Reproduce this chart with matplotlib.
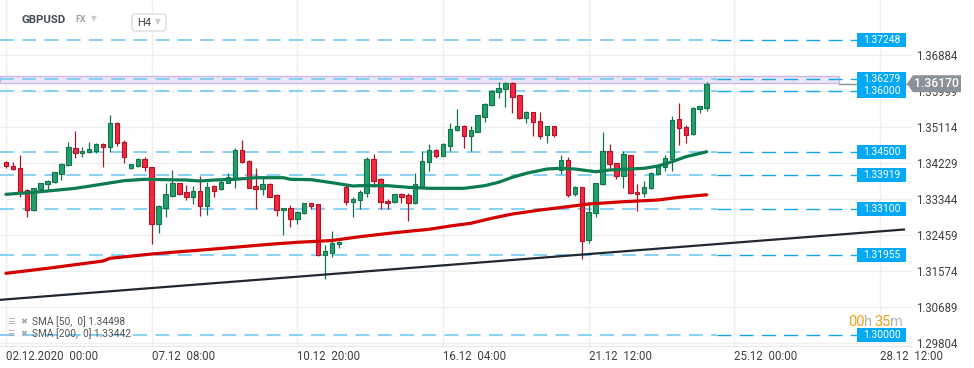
import matplotlib
matplotlib.use('Agg')
import matplotlib.pyplot as plt
import matplotlib.transforms as mtransforms
from matplotlib.patches import Rectangle, Polygon, FancyBboxPatch

plt.rcParams['font.family'] = ['Roboto', 'DejaVu Sans']
plt.rcParams['lines.scale_dashes'] = False

# GBPUSD H4 candles
opens = [1.34239, 1.34156, 1.34092, 1.33558, 1.33067, 1.33575, 1.33698, 1.33747, 1.33944, 1.34166,
         1.34583, 1.34461, 1.34485, 1.34525, 1.34689, 1.34623, 1.35198, 1.34731, 1.34092, 1.34156,
         1.34313, 1.34117, 1.32716, 1.33124, 1.33419, 1.33722, 1.33509, 1.33394, 1.33534, 1.33173,
         1.33657, 1.33575, 1.33738, 1.33845, 1.34542, 1.34271, 1.33657, 1.33575, 1.33706, 1.33436,
         1.33060, 1.33109, 1.32839, 1.32993, 1.33232, 1.33207, 1.31954, 1.32018, 1.32224, 1.33640,
         1.33271, 1.33313, 1.33477, 1.34313, 1.33822, 1.33281, 1.33257, 1.33452, 1.33436, 1.33232,
         1.33640, 1.34239, 1.34542, 1.34402, 1.34647, 1.35033, 1.35131, 1.34886, 1.34991, 1.35360,
         1.35647, 1.35974, 1.36033, 1.36180, 1.35893, 1.35320, 1.35468, 1.35254, 1.34903, 1.35124,
         1.34050, 1.34296, 1.33452, 1.33625, 1.32330, 1.32986, 1.33698, 1.34517, 1.34215, 1.33910,
         1.34411, 1.33502, 1.33477, 1.33600, 1.33944, 1.34131, 1.34313, 1.35296, 1.35099, 1.34927,
         1.35541, 1.35581]
highs = [1.34271, 1.34247, 1.34419, 1.33575, 1.33620, 1.33738, 1.33804, 1.34008, 1.34215, 1.34745,
         1.35008, 1.34623, 1.34730, 1.34721, 1.34706, 1.35402, 1.35230, 1.34787, 1.34200, 1.34338,
         1.34362, 1.34131, 1.33182, 1.33738, 1.34050, 1.33738, 1.33681, 1.33657, 1.33902, 1.33763,
         1.33681, 1.33804, 1.33968, 1.34583, 1.34787, 1.34296, 1.34092, 1.33902, 1.33722, 1.33452,
         1.33124, 1.33182, 1.33035, 1.33247, 1.33247, 1.33215, 1.32215, 1.32552, 1.32306, 1.33681,
         1.33394, 1.33558, 1.34377, 1.34443, 1.33846, 1.33330, 1.33460, 1.33477, 1.33477, 1.33968,
         1.34524, 1.34689, 1.34558, 1.34706, 1.35213, 1.35549, 1.35156, 1.35131, 1.35410, 1.35689,
         1.36016, 1.36219, 1.36219, 1.36219, 1.35900, 1.35500, 1.35483, 1.35468, 1.35139, 1.35139,
         1.34419, 1.34377, 1.33657, 1.33640, 1.33271, 1.33738, 1.34991, 1.34689, 1.34230, 1.34517,
         1.34419, 1.33698, 1.33779, 1.34008, 1.34160, 1.34419, 1.35377, 1.35704, 1.35156, 1.35606,
         1.35623, 1.36219]
lows = [1.34092, 1.34050, 1.33393, 1.32895, 1.33055, 1.33558, 1.33540, 1.33723, 1.33804, 1.34156,
        1.34338, 1.34377, 1.34461, 1.34461, 1.34131, 1.34500, 1.34640, 1.34215, 1.34085, 1.34131,
        1.34033, 1.32232, 1.32510, 1.32895, 1.33394, 1.33435, 1.33313, 1.33215, 1.32910, 1.32945,
        1.33394, 1.33558, 1.33722, 1.33615, 1.34215, 1.33600, 1.33085, 1.33436, 1.33379, 1.32927,
        1.32453, 1.32642, 1.32724, 1.32965, 1.33092, 1.31937, 1.31364, 1.31906, 1.32141, 1.33190,
        1.32903, 1.33085, 1.33394, 1.33625, 1.33092, 1.33092, 1.33240, 1.33247, 1.32805, 1.33215,
        1.33600, 1.34033, 1.34353, 1.34402, 1.34517, 1.35009, 1.34598, 1.34524, 1.34980, 1.35237,
        1.35630, 1.35827, 1.35605, 1.35458, 1.35310, 1.35212, 1.34893, 1.34812, 1.34721, 1.34869,
        1.33952, 1.33394, 1.33411, 1.31863, 1.32248, 1.32903, 1.33681, 1.34050, 1.33822, 1.33615,
        1.33452, 1.33051, 1.33394, 1.33583, 1.33930, 1.34033, 1.34033, 1.34664, 1.34721, 1.34910,
        1.35443, 1.35507]
closes = [1.34148, 1.34067, 1.33516, 1.33067, 1.33600, 1.33723, 1.33779, 1.33993, 1.34190, 1.34607,
          1.34461, 1.34517, 1.34558, 1.34681, 1.34623, 1.35198, 1.34706, 1.34362, 1.34190, 1.34313,
          1.34117, 1.32716, 1.33165, 1.33452, 1.33730, 1.33460, 1.33394, 1.33534, 1.33173, 1.33640,
          1.33540, 1.33763, 1.33870, 1.34542, 1.34239, 1.33615, 1.33575, 1.33698, 1.33394, 1.33060,
          1.33124, 1.32839, 1.33018, 1.33232, 1.33173, 1.31954, 1.32060, 1.32264, 1.32289, 1.33271,
          1.33330, 1.33502, 1.34313, 1.33787, 1.33257, 1.33232, 1.33452, 1.33379, 1.33232, 1.33698,
          1.34271, 1.34542, 1.34402, 1.34681, 1.35050, 1.35131, 1.34878, 1.35033, 1.35402, 1.35672,
          1.35998, 1.36057, 1.36180, 1.35851, 1.35320, 1.35468, 1.35222, 1.34893, 1.35124, 1.34918,
          1.34296, 1.33436, 1.33625, 1.32313, 1.33011, 1.33723, 1.34517, 1.34190, 1.33910, 1.34436,
          1.33477, 1.33452, 1.33625, 1.33968, 1.34148, 1.34338, 1.35279, 1.35075, 1.34910, 1.35566,
          1.35623, 1.36170]

# moving averages (candle index, value)
sma50_idx = [0, 4, 6, 10, 14, 17, 20, 23, 26, 28, 30, 33, 36, 40, 41, 44, 47, 50, 51, 55, 58, 61,
             66, 69, 71, 73, 75, 78, 80, 82, 85, 87, 92, 94, 96, 98, 101]
sma50 = [1.33453, 1.33502, 1.33534, 1.33600, 1.33706, 1.33787, 1.33822, 1.33812, 1.33804, 1.33780,
         1.33804, 1.33822, 1.33861, 1.33861, 1.33822, 1.33812, 1.33738, 1.33657, 1.33665, 1.33665,
         1.33625, 1.33600, 1.33600, 1.33665, 1.33748, 1.33871, 1.33969, 1.34075, 1.34092, 1.34075,
         1.34008, 1.34050, 1.34092, 1.34149, 1.34254, 1.34377, 1.34498]
sma200_idx = [0, 6, 14, 15, 21, 24, 30, 38, 42, 47, 51, 56, 61, 64, 67, 70, 73, 77, 80, 84, 89, 94,
              97, 101]
sma200 = [1.31512, 1.31635, 1.31814, 1.31881, 1.31986, 1.32028, 1.32109, 1.32225, 1.32274, 1.32318,
          1.32411, 1.32510, 1.32593, 1.32674, 1.32741, 1.32864, 1.32969, 1.33067, 1.33129, 1.33215,
          1.33271, 1.33313, 1.33379, 1.33442]

trend_idx = [-0.87, 129.6]
trend = [1.3086, 1.3259]

levels = [1.37248, 1.36279, 1.36000, 1.34500, 1.33919, 1.33100, 1.31955, 1.30000]
band = (1.3618, 1.3636)
last_price = 1.36170

y_ticks = [1.29804, 1.30689, 1.31574, 1.32459, 1.33344, 1.34229, 1.35114, 1.35999, 1.36884]
x_tick_pos = [0, 21, 42, 63, 84, 105, 126]
x_tick_labels = ['02.12.2020  00:00', '07.12  08:00', '10.12  20:00', '16.12  04:00',
                 '21.12  12:00', '25.12  00:00', '28.12  12:00']

fig = plt.figure(figsize=(9.74, 3.68), dpi=100)
ax = fig.add_axes([0, 22 / 368, 912 / 974, 346 / 368])
ax.set_xlim(-0.86, 130.6)
ax.set_ylim(1.29726, 1.38227)

ax.set_yticks(y_ticks)
ax.set_yticklabels([f'{v:.5f}' for v in y_ticks])
ax.yaxis.tick_right()
ax.tick_params(axis='y', length=0, pad=3, labelsize=8.3, labelcolor='#404040')
ax.set_xticks(x_tick_pos)
ax.set_xticklabels(x_tick_labels, ha='left')
ax.tick_params(axis='x', length=0, pad=3, labelsize=8.3, labelcolor='#404040')
ax.grid(True, color='#efefef', lw=1)
ax.set_axisbelow(True)
for s in ax.spines.values():
    s.set_visible(False)
ax.spines['bottom'].set_visible(True)
ax.spines['bottom'].set_color('#e6e6e6')

trans = mtransforms.blended_transform_factory(ax.transAxes, ax.transData)

# resistance band and level lines
ax.axhspan(band[0], band[1], xmin=0, xmax=839 / 912, fc='#ebe6f5', ec='#c9b9ea', lw=1, zorder=1)
for lv in levels:
    ax.plot([0, 0.786], [lv, lv], transform=trans, color='#7fcdf3', lw=1.3,
            dashes=(10, 6), zorder=1.5)
    ax.plot([0.786, 0.94], [lv, lv], transform=trans, color='#12a6ee', lw=1.0,
            dashes=(10, 6), zorder=1.5)
ax.plot([839 / 912, 0.995], [last_price, last_price], transform=trans, color='#8a9298', lw=1)

# candles
x = list(range(len(opens)))
up = [c >= o for o, c in zip(opens, closes)]
fill = ['#22a06b' if u else '#f5283f' for u in up]
edge = ['#12744b' if u else '#ad1527' for u in up]
ax.vlines(x, lows, highs, colors=edge, lw=0.9, zorder=3)
ax.bar(x, [abs(c - o) for o, c in zip(opens, closes)], bottom=[min(o, c) for o, c in zip(opens, closes)],
       width=0.64, color=fill, edgecolor=edge, lw=0.8, zorder=4)

# indicators
ax.plot(trend_idx, trend, color='#222831', lw=1.6, zorder=3, solid_capstyle='butt')
ax.plot(sma50_idx, sma50, color='#0a7c4f', lw=2.3, zorder=5, solid_capstyle='round')
ax.plot(sma200_idx, sma200, color='#d40000', lw=2.3, zorder=5, solid_capstyle='round')

# level boxes
bh = 14 * 0.0002457
for lv in [1.37248, 1.36000, 1.36279, 1.34500, 1.33919, 1.33100, 1.31955, 1.30000]:
    ax.add_patch(Rectangle((857 / 912, lv - bh / 2), 49 / 912, bh, transform=trans,
                           fc='#03a9f4', ec='none', clip_on=False, zorder=8))
    ax.text(881.5 / 912, lv, f'{lv:.5f}', transform=trans, color='white', fontsize=7.4,
            ha='center', va='center', zorder=9, clip_on=False)

# last price tag
hh = 8.5 * 0.0002457
ax.add_patch(Polygon([(907 / 912, last_price), (913 / 912, last_price + hh), (961 / 912, last_price + hh),
                      (961 / 912, last_price - hh), (913 / 912, last_price - hh)],
                     closed=True, transform=trans, fc='#8a9197', ec='none', clip_on=False, zorder=10))
ax.text(937 / 912, last_price, f'{last_price:.5f}', transform=trans, color='white', fontsize=8.8,
        fontweight='medium', ha='center', va='center', zorder=11, clip_on=False)

# indicator legend
for yy, txt in [(0.0694, 'SMA [50,  0] 1.34498'), (0.0347, 'SMA [200,  0] 1.33442')]:
    ax.text(7 / 912, yy, '☰', transform=ax.transAxes, fontsize=6, color='#a8a8a8', va='center',
            family=['DejaVu Sans'])
    ax.text(20 / 912, yy, '✖', transform=ax.transAxes, fontsize=6, color='#a8a8a8', va='center',
            family=['DejaVu Sans'])
    ax.text(32 / 912, yy, txt, transform=ax.transAxes, fontsize=7.3, color='#555555', va='center',
            zorder=9)

# candle countdown
cy = 1 - 322 / 368
for px, s, c in [(848, '00', '#f6a01a'), (864, 'h', '#b5b5b5'), (874, '35', '#f6a01a'), (890, 'm', '#b5b5b5')]:
    fig.text(px / 974, cy, s, color=c, fontsize=10.5, va='center', ha='left')

# header
hy = 1 - 20 / 368
fig.text(21 / 974, hy, 'GBPUSD', fontsize=8.2, fontweight='bold', color='#3f4b55', va='center')
fig.text(75 / 974, hy, 'FX', fontsize=6.5, fontweight='bold', color='#9aa4ab', va='center')
fig.text(91 / 974, hy + 0.004, '▼', fontsize=5.5, color='#c8cbce', va='center', family=['DejaVu Sans'])
fig.add_artist(FancyBboxPatch((132, 368 - 31), 34, 17, boxstyle='round,pad=0,rounding_size=3',
                              transform=mtransforms.IdentityTransform(), fc='white', ec='#dcdcdc', lw=1))
fig.text(137 / 974, 1 - 22.5 / 368, 'H4', fontsize=8, color='#444444', va='center')
fig.text(155 / 974, 1 - 21.5 / 368, '▼', fontsize=5.5, color='#c8cbce', va='center', family=['DejaVu Sans'])

fig.savefig('out.png', dpi=100)
